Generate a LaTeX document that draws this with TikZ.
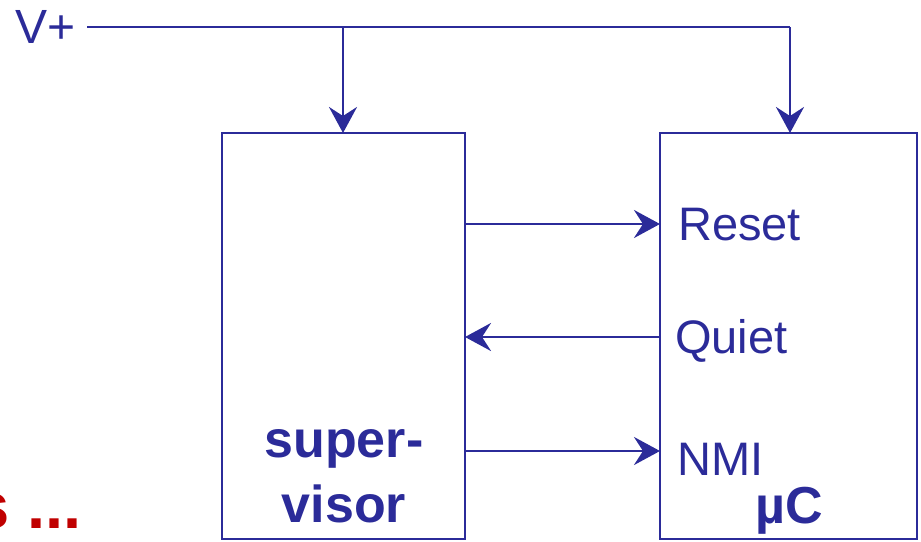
\documentclass[tikz,border=0pt]{standalone}
\usepackage{fontspec}
\setmainfont{Liberation Sans}
\usetikzlibrary{arrows.meta}
\definecolor{navy}{RGB}{43,43,153}
\definecolor{dred}{RGB}{192,0,0}
\begin{document}
\begin{tikzpicture}[x=1pt,y=-1pt,
  wire/.style={navy,line width=2.8pt},
  arr/.style={wire,-{Stealth[length=26pt,width=28pt,inset=9pt]}},
  box/.style={draw=navy,line width=2.8pt,rectangle,inner sep=0pt,outer sep=0pt},
  lbl/.style={text=navy,font=\fontsize{47}{50}\selectfont,inner sep=0pt,anchor=base west},
  blbl/.style={text=navy,font=\bfseries\fontsize{52}{56}\selectfont,inner sep=0pt,anchor=base},
]
\useasboundingbox (0,0) rectangle (921,541);
% boxes
\node[box,minimum width=243pt,minimum height=406pt] (sup) at (343.5,336) {};
\node[box,minimum width=257pt,minimum height=406pt] (uc) at (788.5,336) {};
% labels
\node[lbl,font=\fontsize{48}{50}\selectfont] (vp) at (15,43) {V+};
\node[lbl] (rst) at (678,240) {Reset};
\node[lbl] (qt) at (675,353) {Quiet};
\node[lbl] (nmi) at (677,475) {NMI};
\node[blbl,anchor=base west] (muc) at (755,523) {µC};
\node[blbl] (sup1) at (344,457) {super-};
\node[blbl] (sup2) at (344,522) {visor};
\node[text=dred,font=\bfseries\fontsize{65}{70}\selectfont,inner sep=0pt,anchor=base west] (more) at (-27,528) {s ...};
% supply
\coordinate (vs) at (87,27);
\coordinate (j1) at (343,27);
\coordinate (j2) at (790,27);
\draw[wire] (vs) -- (j2);
\draw[arr] (j1) -- (j1 |- sup.north);
\draw[arr] (j2) -- (j2 |- uc.north);
% signals
\draw[arr] (sup.east |- 0,224) -- (uc.west |- 0,224);
\draw[arr] (uc.west |- 0,337) -- (sup.east |- 0,337);
\draw[arr] (sup.east |- 0,451) -- (uc.west |- 0,451);
\end{tikzpicture}
\end{document}
